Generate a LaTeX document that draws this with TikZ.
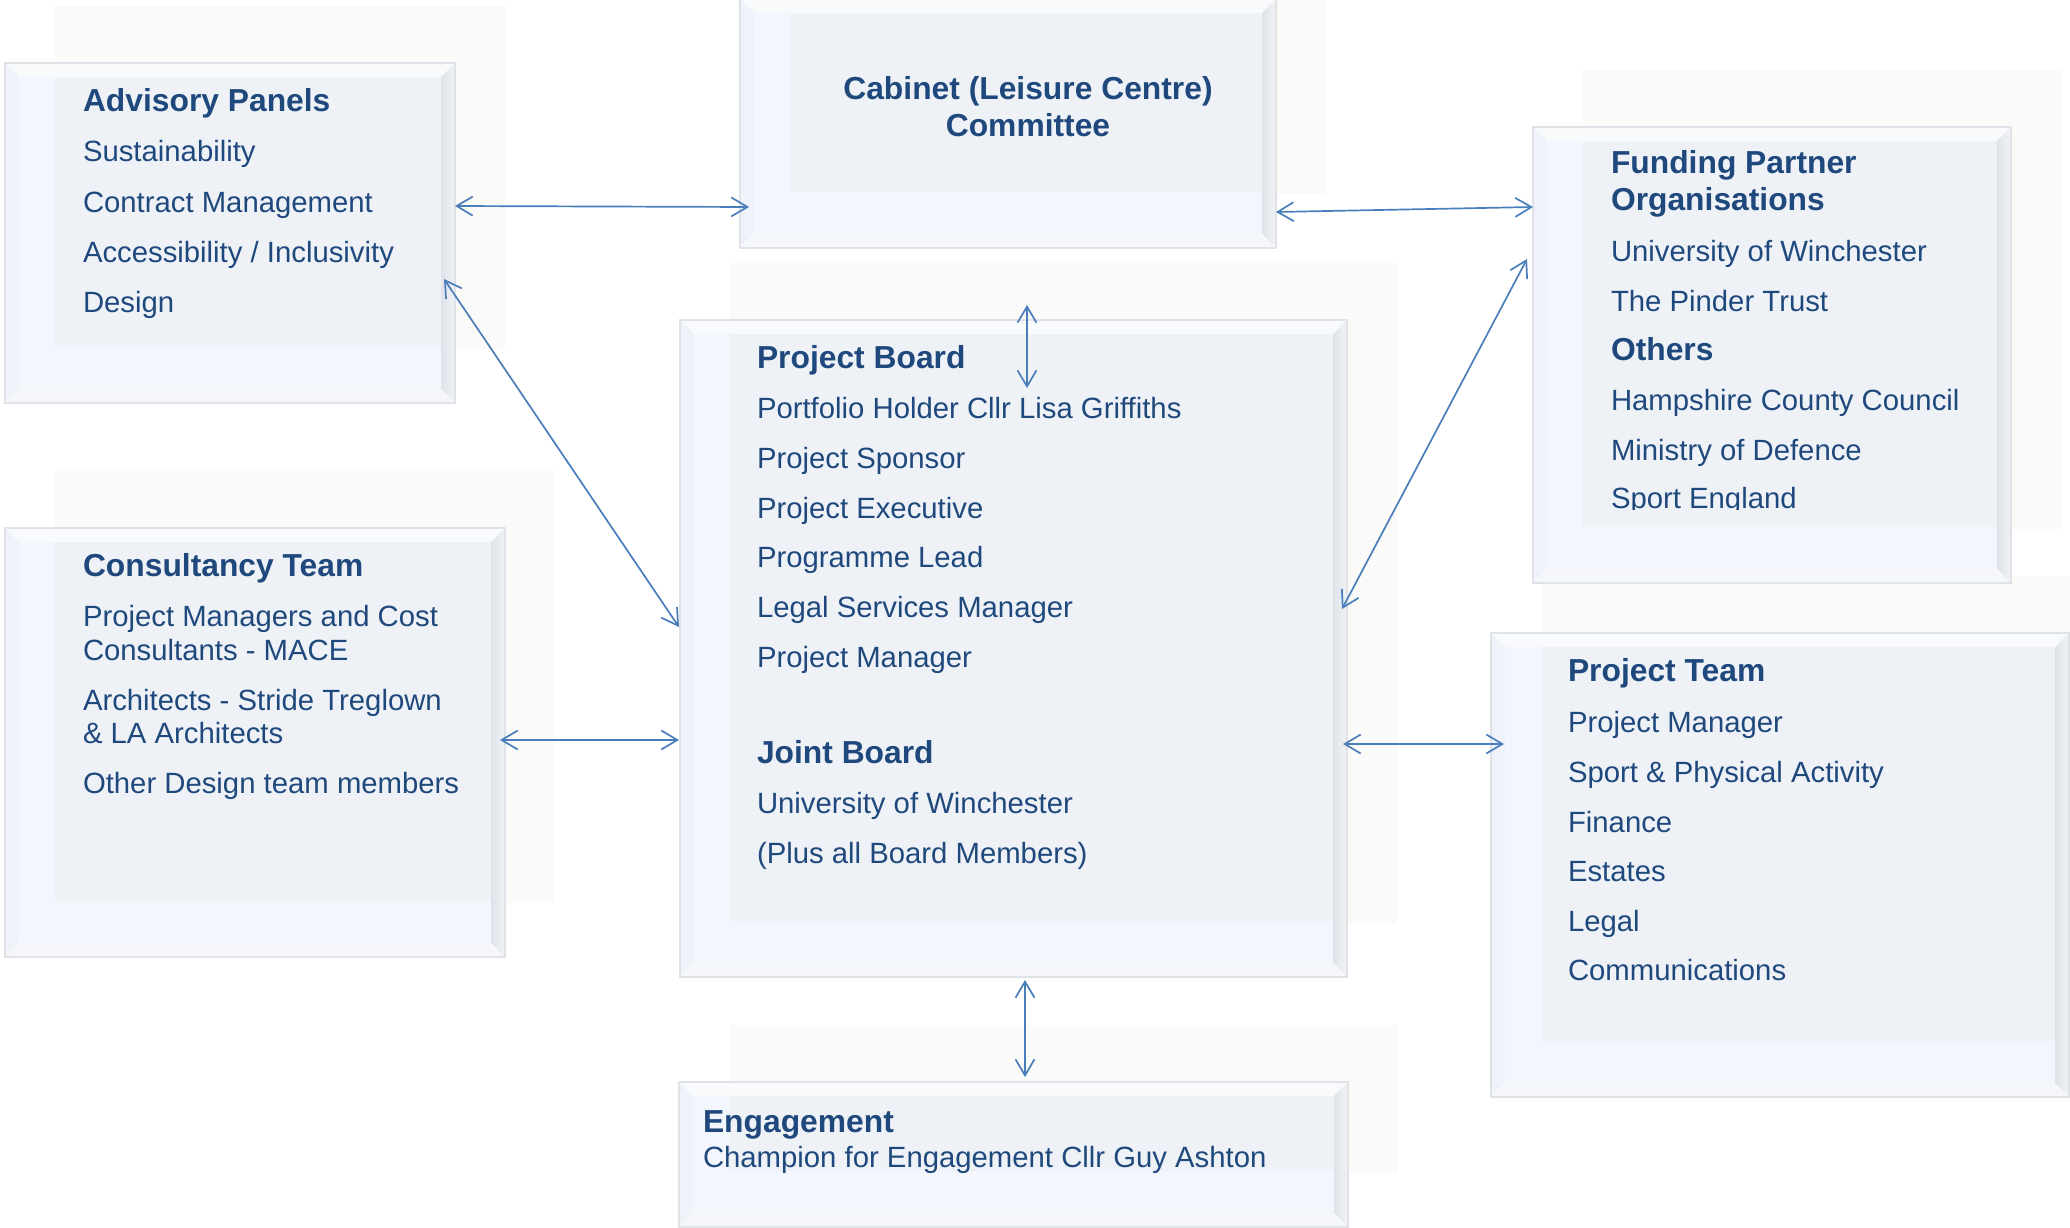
\documentclass[tikz,border=0pt]{standalone}
\usepackage{fontspec}
\setmainfont{Liberation Sans}
\usetikzlibrary{arrows.meta,calc}
\definecolor{txt}{HTML}{1F497D}
\definecolor{arrowblue}{HTML}{4A7EBB}
\definecolor{bgpale}{HTML}{FAFAF8}
\definecolor{innerlight}{HTML}{F3F7FD}
\definecolor{innerdark}{HTML}{EEF2F7}
\definecolor{rimtop}{HTML}{F8FAFC}
\definecolor{rimleft}{HTML}{EFF3F9}
\definecolor{rimdark}{HTML}{DFE3E9}
\definecolor{rimlight}{HTML}{F1F3F6}
\definecolor{rimbottom}{HTML}{F5F7FA}
\definecolor{edgegray}{HTML}{DFE3E8}

% shadow-like pale background behind a box
\newcommand{\bevshadow}[4]{%
  \fill[bgpale] ({#1+50},{#2-57}) rectangle ({#3+50},{#4-54});}
% bevelled frame box, named #1, from (#2,#3) to (#4,#5)
\newcommand{\bevbox}[5]{%
  \fill[rimtop] (#2,#3) -- (#4,#3) -- ({#4-14},{#3+14}) -- ({#2+14},{#3+14}) -- cycle;
  \fill[rimleft] (#2,#3) -- ({#2+14},{#3+14}) -- ({#2+14},{#5-14}) -- (#2,#5) -- cycle;
  \shade[left color=rimdark, right color=rimlight] (#4,#3) -- (#4,#5) -- ({#4-14},{#5-14}) -- ({#4-14},{#3+14}) -- cycle;
  \fill[rimbottom] (#2,#5) -- ({#2+14},{#5-14}) -- ({#4-14},{#5-14}) -- (#4,#5) -- cycle;
  \fill[innerlight] ({#2+14},{#3+14}) rectangle ({#4-14},{#5-14});
  \fill[innerdark] ({#2+50},{#3+14}) rectangle ({#4-14},{#5-56});
  \node[frame, minimum width={#4pt-#2pt}, minimum height={#5pt-#3pt}] (#1) at (#2,#3) {};}

\begin{document}
\begin{tikzpicture}[x=1pt,y=-1pt,
  frame/.style={draw=edgegray, line width=1.5pt, anchor=north west, inner sep=0pt, outer sep=0pt},
  body/.style={anchor=base west, inner sep=0pt, outer sep=0pt, text=txt, font=\fontsize{29.3}{35}\selectfont},
  head/.style={body, font=\fontsize{31.8}{38}\selectfont\bfseries},
  chead/.style={head, anchor=base},
  conn/.style={draw=arrowblue, line width=1.7pt,
    {Straight Barb[length=16pt,width=19pt]}-{Straight Barb[length=16pt,width=19pt]}}]
\useasboundingbox (0,0) rectangle (2070,1228);
\clip (0,0) rectangle (2070,1228);

% pale backgrounds
\bevshadow{5}{63}{455}{403}
\bevshadow{740}{-1}{1276}{248}
\bevshadow{1533}{127}{2011}{583}
\bevshadow{680}{320}{1347}{977}
\bevshadow{5}{528}{505}{957}
\bevshadow{1491}{633}{2069}{1097}
\bevshadow{679}{1082}{1348}{1227}

% boxes
\bevbox{adv}{5}{63}{455}{403}
\bevbox{cab}{740}{-1}{1276}{248}
\bevbox{fund}{1533}{127}{2011}{583}
\bevbox{pb}{680}{320}{1347}{977}
\bevbox{cons}{5}{528}{505}{957}
\bevbox{pt}{1491}{633}{2069}{1097}
\bevbox{eng}{679}{1082}{1348}{1227}

% Advisory Panels
\node[head] (advh) at (83,112) {Advisory Panels};
\node[body] (adv1) at (83,162) {Sustainability};
\node[body] (adv2) at (83,212) {Contract Management};
\node[body] (adv3) at (83,262) {Accessibility / Inclusivity};
\node[body] (adv4) at (83,312) {Design};

% Cabinet
\node[chead] (cab1) at (1028,100) {Cabinet (Leisure Centre)};
\node[chead] (cab2) at (1028,137) {Committee};

% Funding partners
\node[head] (fundh1) at (1611,174) {Funding Partner};
\node[head] (fundh2) at (1611,211) {Organisations};
\node[body] (fund1) at (1611,261) {University of Winchester};
\node[body] (fund2) at (1611,311) {The Pinder Trust};
\node[head] (fundh3) at (1611,360) {Others};
\node[body] (fund3) at (1611,410) {Hampshire County Council};
\node[body] (fund4) at (1611,460) {Ministry of Defence};
\begin{scope}
  \clip (1540,470) rectangle (2000,509);
  \node[body] (fund5) at (1611,508) {Sport England};
\end{scope}

% Project Board
\node[head] (pbh) at (757,368) {Project Board};
\node[body] (pb1) at (757,418) {Portfolio Holder Cllr Lisa Griffiths};
\node[body] (pb2) at (757,468) {Project Sponsor};
\node[body] (pb3) at (757,518) {Project Executive};
\node[body] (pb4) at (757,567) {Programme Lead};
\node[body] (pb5) at (757,617) {Legal Services Manager};
\node[body] (pb6) at (757,667) {Project Manager};
\node[head] (jbh) at (757,763) {Joint Board};
\node[body] (jb1) at (757,813) {University of Winchester};
\node[body] (jb2) at (757,863) {(Plus all Board Members)};

% Consultancy Team
\node[head] (consh) at (83,576) {Consultancy Team};
\node[body] (cons1) at (83,626) {Project Managers and Cost};
\node[body] (cons1b) at (83,660) {Consultants - MACE};
\node[body] (cons2) at (83,710) {Architects - Stride Treglown};
\node[body] (cons2b) at (83,743) {\& LA Architects};
\node[body] (cons3) at (83,793) {Other Design team members};

% Project Team
\node[head] (pth) at (1568,681) {Project Team};
\node[body] (pt1) at (1568,732) {Project Manager};
\node[body] (pt2) at (1568,782) {Sport \& Physical Activity};
\node[body] (pt3) at (1568,832) {Finance};
\node[body] (pt4) at (1568,881) {Estates};
\node[body] (pt5) at (1568,931) {Legal};
\node[body] (pt6) at (1568,980) {Communications};

% Engagement
\node[head] (engh) at (703,1132) {Engagement};
\node[body] (eng1) at (703,1167) {Champion for Engagement Cllr Guy Ashton};

% connectors
\draw[conn] ($(adv.north east)+(0,143)$) -- ($(cab.north west)+(9,208)$);
\draw[conn] ($(cab.north east)+(0,213)$) -- ($(fund.north west)+(0,80)$);
\draw[conn] ($(cab.south)+(19,57)$) -- ($(pb.north)+(13.5,68)$);
\draw[conn] ($(adv.north east)+(-11,216)$) -- ($(pb.north west)+(-1,307)$);
\draw[conn] ($(fund.north west)+(-6,132)$) -- ($(pb.north east)+(-5,289)$);
\draw[conn] ($(cons.north east)+(-5,212)$) -- ($(pb.north west)+(-1,420)$);
\draw[conn] ($(pb.north east)+(-4,424)$) -- ($(pt.north west)+(13,111)$);
\draw[conn] ($(pb.south)+(11.5,3)$) -- ($(eng.north)+(11.5,-5)$);
\end{tikzpicture}
\end{document}
